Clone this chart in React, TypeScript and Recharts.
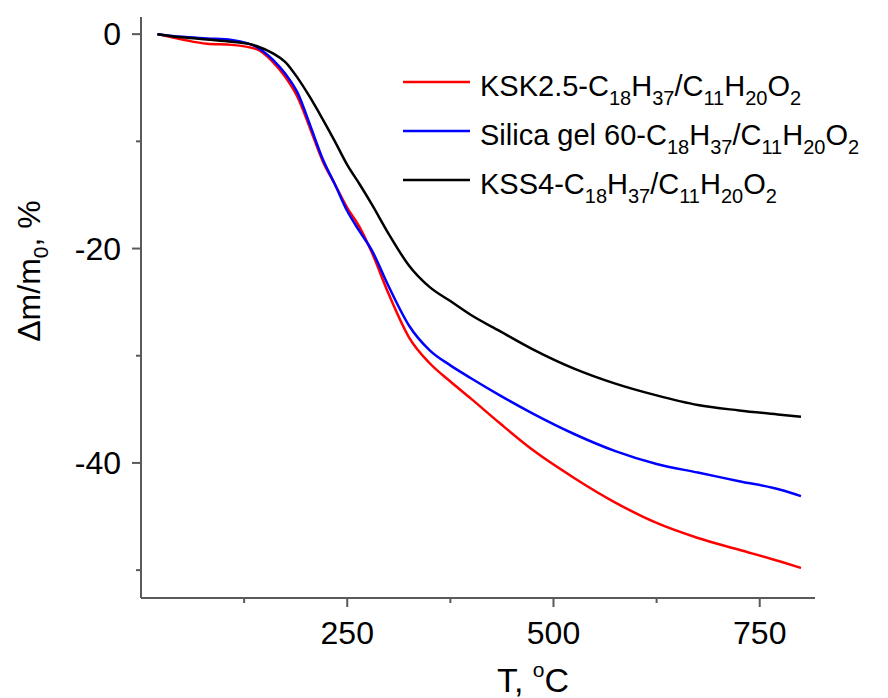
import { LineChart, Line, XAxis, YAxis, Legend } from 'recharts';

// temperature grid, °C
const temps = [20, 50, 80, 110, 140, 160, 175, 190, 205, 220, 235, 250, 265, 280, 300, 325, 350, 375, 400, 435, 475, 525, 575, 625, 675, 725, 775, 800];

// mass change, %
const ksk25 = [0, -0.5, -0.9, -1.0, -1.4, -2.6, -4.0, -5.9, -8.8, -11.8, -14.0, -16.2, -18.0, -20.4, -24.2, -28.3, -30.7, -32.4, -34.0, -36.3, -38.8, -41.4, -43.7, -45.6, -47.0, -48.1, -49.2, -49.8];
const silica60 = [0, -0.25, -0.4, -0.55, -1.2, -2.4, -3.7, -5.5, -8.5, -11.6, -14.0, -16.5, -18.4, -20.2, -23.5, -27.2, -29.5, -30.9, -32.1, -33.7, -35.4, -37.3, -38.9, -40.1, -40.9, -41.7, -42.5, -43.1];
const kss4 = [0, -0.3, -0.5, -0.7, -1.1, -1.8, -2.6, -4.1, -5.9, -7.9, -10.0, -12.2, -14.0, -15.9, -18.6, -21.6, -23.6, -24.9, -26.2, -27.7, -29.4, -31.2, -32.6, -33.7, -34.6, -35.1, -35.5, -35.7];

const xMajor = [250, 500, 750];
const xMinor = [125, 375, 625];
const yMajor = [0, -20, -40];
const yMinor = [-10, -30, -50];

const data = temps.map((t, i) => ({ t, ksk: ksk25[i], sil: silica60[i], kss: kss4[i] }));

const FONT = '"Liberation Sans", Arial, sans-serif';
const AXIS = '#5a5a5a';
const AXIS_X = 141;
const AXIS_Y = 598;

const series = [
  { key: 'ksk', color: '#ff0000', name: 'KSK2.5-' },
  { key: 'sil', color: '#0000ff', name: 'Silica gel 60-' },
  { key: 'kss', color: '#000000', name: 'KSS4-' },
];

function Formula({ prefix }: { prefix: string }) {
  const sub = { fontSize: 20 };
  return (
    <>
      {prefix}C
      <tspan dy={9} {...sub}>18</tspan>
      <tspan dy={-9}>H</tspan>
      <tspan dy={9} {...sub}>37</tspan>
      <tspan dy={-9}>/C</tspan>
      <tspan dy={9} {...sub}>11</tspan>
      <tspan dy={-9}>H</tspan>
      <tspan dy={9} {...sub}>20</tspan>
      <tspan dy={-9}>O</tspan>
      <tspan dy={9} {...sub}>2</tspan>
    </>
  );
}

function XTick(props: any) {
  const { x, payload } = props;
  const major = xMajor.includes(payload.value);
  return (
    <g>
      <line x1={x} x2={x} y1={AXIS_Y} y2={major ? AXIS_Y + 9 : AXIS_Y + 5} stroke={AXIS} strokeWidth={2} />
      {major && (
        <text x={x} y={AXIS_Y + 46} textAnchor="middle" fontSize={32} fontFamily={FONT} fill="#000">
          {payload.value}
        </text>
      )}
    </g>
  );
}

function YTick(props: any) {
  const { y, payload } = props;
  const major = yMajor.includes(payload.value);
  return (
    <g>
      <line x1={major ? AXIS_X - 9 : AXIS_X - 5} x2={AXIS_X} y1={y} y2={y} stroke={AXIS} strokeWidth={2} />
      {major && (
        <text x={121} y={y + 11} textAnchor="end" fontSize={32} fontFamily={FONT} fill="#000">
          {payload.value}
        </text>
      )}
    </g>
  );
}

function LegendBox() {
  return (
    <svg width={490} height={150} style={{ display: 'block' }}>
      {series.map((s, i) => {
        const cy = 22 + i * 49;
        return (
          <g key={s.key}>
            <line x1={8} x2={75} y1={cy} y2={cy} stroke={s.color} strokeWidth={2.5} />
            <text x={85} y={cy + 14} fontSize={29} fontFamily={FONT} fill="#000">
              <Formula prefix={s.name} />
            </text>
          </g>
        );
      })}
    </svg>
  );
}

export default function App() {
  return (
    <div style={{ position: 'absolute', left: 0, top: 0, width: 888, height: 698, background: '#fff' }}>
      <LineChart width={888} height={698} data={data} margin={{ top: 17, right: 73, bottom: 0, left: 0 }}>
        <XAxis
          dataKey="t"
          type="number"
          domain={[0, 817]}
          ticks={[...xMinor, ...xMajor].sort((a, b) => a - b)}
          height={100}
          stroke={AXIS}
          strokeWidth={2}
          tickLine={false}
          tick={<XTick />}
          interval={0}
          label={() => (
            <text x={533} y={692} textAnchor="middle" fontSize={34} fontFamily={FONT} fill="#000">
              T,{' '}
              <tspan dy={-15} fontSize={21}>o</tspan>
              <tspan dy={15}>C</tspan>
            </text>
          )}
        />
        <YAxis
          type="number"
          domain={[-52.6, 1.6]}
          ticks={[0, -10, -20, -30, -40, -50]}
          width={AXIS_X}
          stroke={AXIS}
          strokeWidth={2}
          tickLine={false}
          tick={<YTick />}
          interval={0}
          allowDataOverflow
          label={() => (
            <text transform="rotate(-90)" x={-271} y={40} textAnchor="middle" fontSize={32} fontFamily={FONT} fill="#000">
              Δm/m
              <tspan dy={8} fontSize={21}>0</tspan>
              <tspan dy={-8}>, %</tspan>
            </text>
          )}
        />
        <Legend
          layout="horizontal"
          verticalAlign="middle"
          align="center"
          content={() => <LegendBox />}
          wrapperStyle={{ position: 'absolute', left: 395, top: 60, width: 490, height: 150 }}
        />
        {series.map((s) => (
          <Line
            key={s.key}
            type="monotone"
            dataKey={s.key}
            stroke={s.color}
            strokeWidth={2.5}
            dot={false}
            isAnimationActive={false}
          />
        ))}
      </LineChart>
    </div>
  );
}
